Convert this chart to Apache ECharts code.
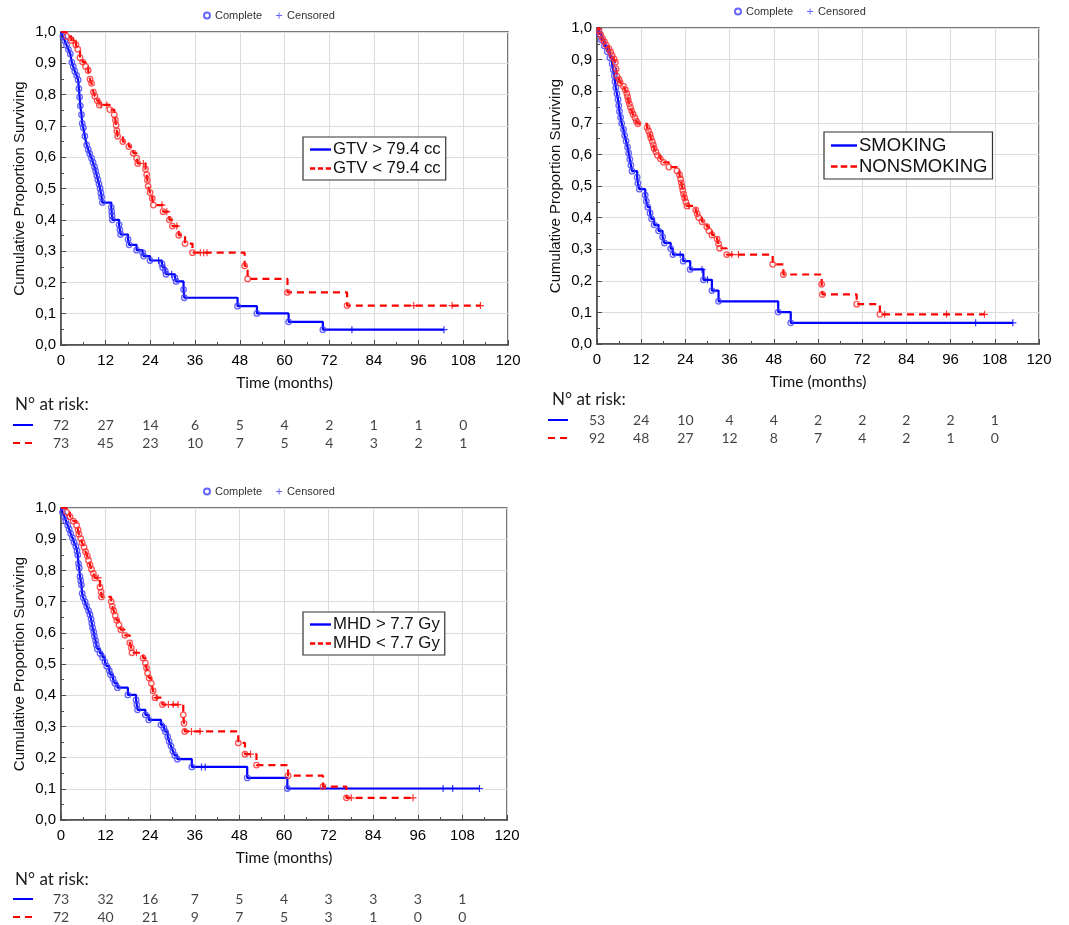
<!DOCTYPE html>
<html><head><meta charset="utf-8">
<script src="https://cdn.jsdelivr.net/npm/echarts@6/dist/echarts.min.js"></script>
<style>html,body{margin:0;padding:0;background:#fff}#c{width:1069px;height:925px}</style>
</head><body><div id="c"></div>
<script>
// ---------- DATA ----------
const xTicks = [0, 12, 24, 36, 48, 60, 72, 84, 96, 108, 120];
const yTickLabels = ['0,0','0,1','0,2','0,3','0,4','0,5','0,6','0,7','0,8','0,9','1,0'];
const riskTimes = [0, 12, 24, 36, 48, 60, 72, 84, 96, 108];

// Panel A: GTV
const gtvNames = ['GTV > 79.4 cc', 'GTV < 79.4 cc'];
const gtvHighEvents = [[0.5,0.986],[1.0,0.972],[1.5,0.958],[2.0,0.944],[2.5,0.930],[2.9,0.903],[3.3,0.889],[3.7,0.875],[4.2,0.861],[4.6,0.847],[4.8,0.819],[5.0,0.792],[5.2,0.764],[5.5,0.736],[5.7,0.708],[6.0,0.694],[6.4,0.667],[6.9,0.639],[7.3,0.625],[7.7,0.611],[8.2,0.597],[8.6,0.583],[9.0,0.569],[9.3,0.556],[9.6,0.542],[9.9,0.528],[10.2,0.514],[10.5,0.500],[10.7,0.486],[10.9,0.472],[11.1,0.455],[13.5,0.440],[13.6,0.426],[13.7,0.413],[13.8,0.400],[15.6,0.384],[15.8,0.368],[16.0,0.353],[18.0,0.337],[18.3,0.320],[20.3,0.303],[21.9,0.295],[22.2,0.284],[23.9,0.270],[27.1,0.259],[27.3,0.248],[28.0,0.237],[28.2,0.226],[30.6,0.214],[30.9,0.203],[32.9,0.177],[33.1,0.151],[47.4,0.124],[52.6,0.101],[61.1,0.074],[70.3,0.049]];
const gtvHighCens = [26.2, 29.7, 78.1, 102.8];
const gtvLowEvents = [[1.5,0.986],[2.8,0.973],[4.0,0.959],[4.5,0.945],[5.1,0.918],[5.8,0.904],[6.6,0.890],[7.3,0.877],[7.8,0.849],[8.2,0.836],[8.7,0.808],[9.1,0.795],[9.7,0.781],[10.3,0.767],[13.1,0.752],[14.3,0.736],[14.6,0.719],[14.8,0.702],[15.0,0.684],[15.2,0.667],[16.6,0.650],[18.2,0.634],[19.4,0.613],[20.3,0.597],[20.6,0.580],[22.7,0.562],[23.0,0.544],[23.2,0.526],[23.4,0.507],[23.9,0.487],[24.5,0.468],[24.8,0.447],[27.4,0.426],[29.1,0.400],[29.9,0.380],[31.6,0.351],[33.3,0.324],[35.3,0.295],[49.3,0.253],[50.1,0.211],[60.8,0.168],[76.8,0.126]];
const gtvLowCens = [3.3, 10.8, 12.3, 22.1, 27.1, 28.4, 31.1, 37.4, 38.3, 39.2, 94.7, 105.0, 112.6];
const gtvHighRisk = [72, 27, 14, 6, 5, 4, 2, 1, 1, 0];
const gtvLowRisk = [73, 45, 23, 10, 7, 5, 4, 3, 2, 1];

// Panel B: smoking
const smkNames = ['SMOKING', 'NONSMOKING'];
const smkEvents = [[0.6,0.981],[1.2,0.962],[2.0,0.943],[2.8,0.925],[3.5,0.906],[4.1,0.887],[4.4,0.868],[4.7,0.849],[4.9,0.830],[5.1,0.811],[5.4,0.792],[5.7,0.774],[5.9,0.755],[6.1,0.736],[6.4,0.717],[6.7,0.698],[7.2,0.679],[7.5,0.660],[7.9,0.642],[8.3,0.623],[8.6,0.604],[8.9,0.585],[9.2,0.566],[9.5,0.547],[10.9,0.528],[11.1,0.509],[11.5,0.490],[13.1,0.471],[13.4,0.452],[13.8,0.433],[14.4,0.414],[14.8,0.396],[15.5,0.377],[16.7,0.358],[17.8,0.339],[18.3,0.320],[20.0,0.302],[20.6,0.283],[23.4,0.262],[25.3,0.236],[28.9,0.203],[31.2,0.169],[33.0,0.135],[49.2,0.101],[52.6,0.067]];
const smkCens = [22.6, 28.5, 30.0, 102.8, 112.9];
const nonEvents = [[0.6,0.989],[1.0,0.978],[1.5,0.967],[2.0,0.957],[2.5,0.946],[3.2,0.935],[3.7,0.924],[4.1,0.913],[4.6,0.902],[5.0,0.891],[5.2,0.870],[5.4,0.848],[6.0,0.837],[6.3,0.826],[7.2,0.815],[7.7,0.804],[8.1,0.793],[8.3,0.782],[8.5,0.771],[8.8,0.760],[9.1,0.749],[9.4,0.738],[9.8,0.727],[10.3,0.716],[10.7,0.705],[11.1,0.697],[13.6,0.685],[14.0,0.674],[14.4,0.663],[14.6,0.652],[15.0,0.641],[15.3,0.630],[15.5,0.619],[16.0,0.608],[16.4,0.597],[17.2,0.586],[18.1,0.575],[19.5,0.560],[21.7,0.548],[22.4,0.535],[22.7,0.522],[22.9,0.510],[23.1,0.498],[23.3,0.486],[23.5,0.474],[23.8,0.462],[24.1,0.450],[24.4,0.437],[26.8,0.424],[27.2,0.412],[27.6,0.400],[28.5,0.387],[29.8,0.371],[30.4,0.358],[31.2,0.345],[32.6,0.332],[33.0,0.317],[33.3,0.303],[35.2,0.283],[47.7,0.252],[50.6,0.220],[61.0,0.189],[61.2,0.157],[70.5,0.126],[76.8,0.094]];
const nonCens = [25.0, 36.6, 38.4, 78.1, 94.9, 105.2];
const smkRisk = [53, 24, 10, 4, 4, 2, 2, 2, 2, 1];
const nonRisk = [92, 48, 27, 12, 8, 7, 4, 2, 1, 0];

// Panel C: MHD
const mhdNames = ['MHD > 7.7 Gy', 'MHD < 7.7 Gy'];
const mhdHighEvents = [[0.4,0.986],[0.9,0.973],[1.3,0.959],[1.8,0.945],[2.2,0.932],[2.6,0.918],[3.1,0.904],[3.5,0.890],[4.0,0.877],[4.3,0.863],[4.5,0.849],[4.7,0.822],[4.9,0.808],[5.1,0.781],[5.3,0.767],[5.5,0.753],[5.7,0.726],[6.0,0.712],[6.5,0.699],[6.9,0.685],[7.4,0.671],[7.8,0.658],[8.1,0.644],[8.3,0.630],[8.5,0.616],[8.8,0.603],[9.0,0.589],[9.3,0.575],[9.5,0.562],[9.8,0.548],[10.5,0.534],[11.2,0.521],[11.8,0.507],[12.3,0.493],[13.0,0.479],[13.3,0.466],[14.0,0.452],[14.5,0.438],[15.2,0.424],[18.0,0.401],[20.2,0.385],[20.4,0.369],[20.6,0.353],[22.7,0.337],[23.6,0.321],[26.9,0.305],[27.7,0.294],[28.1,0.283],[28.7,0.267],[29.1,0.252],[29.6,0.237],[30.1,0.221],[30.6,0.207],[31.3,0.195],[35.2,0.170],[50.1,0.135],[60.9,0.101]];
const mhdHighCens = [37.8, 38.8, 102.8, 105.4, 112.6];
const mhdLowEvents = [[1.5,0.986],[2.4,0.972],[3.3,0.958],[4.2,0.944],[4.6,0.930],[4.8,0.916],[5.3,0.902],[5.7,0.888],[6.2,0.874],[6.6,0.860],[7.1,0.846],[7.4,0.832],[7.8,0.818],[8.2,0.804],[8.7,0.790],[9.1,0.776],[10.5,0.746],[10.8,0.731],[10.9,0.715],[13.5,0.700],[13.8,0.685],[14.2,0.670],[14.6,0.655],[15.0,0.640],[15.6,0.625],[16.1,0.610],[17.2,0.592],[18.5,0.568],[18.9,0.552],[19.1,0.536],[22.1,0.519],[22.7,0.503],[23.0,0.487],[23.3,0.471],[23.7,0.455],[24.3,0.438],[24.8,0.414],[25.3,0.392],[27.3,0.370],[32.9,0.337],[33.1,0.310],[33.3,0.284],[47.7,0.247],[49.5,0.211],[52.6,0.176],[61.1,0.142],[70.5,0.107],[76.8,0.071]];
const mhdLowCens = [10.0, 20.3, 25.8, 28.9, 30.2, 31.5, 35.1, 37.4, 51.0, 78.1, 94.7];
const mhdHighRisk = [73, 32, 16, 7, 5, 4, 3, 3, 3, 1];
const mhdLowRisk = [72, 40, 21, 9, 7, 5, 3, 1, 0, 0];

// ---------- LAYOUT / STYLE ----------
const BLUE = '#0000ff', RED = '#ff0000', BLUE_MK = '#4040ff', RED_MK = '#ff2a2a';
const PLUS = 'path://M3,0h1.2v3h3v1.2h-3v3h-1.2v-3h-3v-1.2h3z';
const ARIAL = 'Liberation Sans';

const panels = [
  { names: gtvNames, events: [gtvHighEvents, gtvLowEvents], cens: [gtvHighCens, gtvLowCens], risk: [gtvHighRisk, gtvLowRisk],
    grid: {left: 61, top: 32, width: 447, height: 313}, riskTop: 416,
    topLegend: {left: 203, top: 10}, box: {left: 303, top: 137}, boxFont: 16.8, iconW: 21,
    riskTitle: [15, 396], keyX: 13, keyY: [425, 443] },
  { names: smkNames, events: [smkEvents, nonEvents], cens: [smkCens, nonCens], risk: [smkRisk, nonRisk],
    grid: {left: 597, top: 28, width: 442, height: 316}, riskTop: 411,
    topLegend: {left: 734, top: 6}, box: {left: 824, top: 132}, boxFont: 18.5, iconW: 26,
    riskTitle: [552, 391], keyX: 548, keyY: [420, 438] },
  { names: mhdNames, events: [mhdHighEvents, mhdLowEvents], cens: [mhdHighCens, mhdLowCens], risk: [mhdHighRisk, mhdLowRisk],
    grid: {left: 61, top: 508, width: 446, height: 312}, riskTop: 890,
    topLegend: {left: 203, top: 486}, box: {left: 303, top: 612}, boxFont: 16.8, iconW: 21,
    riskTitle: [15, 871], keyX: 13, keyY: [899, 917] }
];

function solidIcon(w) { return 'path://M0,0h' + w + 'v2.4h-' + w + 'z'; }
function dashIcon(w) {
  const d = w / 4;
  return 'path://M0,0h' + d + 'v2.4h-' + d + 'z M' + (1.5 * d) + ',0h' + d + 'v2.4h-' + d + 'z M' + (3 * d) + ',0h' + d + 'v2.4h-' + d + 'z';
}

function survAt(events, t) {
  let s = 1;
  for (const e of events) { if (e[0] <= t) s = e[1]; }
  return s;
}
function lineData(events, cens) {
  const pts = [[0, 1]].concat(events);
  const lastC = Math.max.apply(null, cens);
  const last = events[events.length - 1];
  if (lastC > last[0]) pts.push([lastC, last[1]]);
  return pts;
}

const grids = [], xAxes = [], yAxes = [], series = [], legends = [], graphics = [];

series.push({ name: 'Complete', type: 'scatter', data: [], symbol: 'circle', itemStyle: {color: BLUE_MK} });
series.push({ name: 'Censored', type: 'scatter', data: [], symbol: PLUS, itemStyle: {color: BLUE_MK} });

panels.forEach((p, i) => {
  const gi = grids.length;
  grids.push(Object.assign({ show: true, borderColor: '#4a4a4a', borderWidth: 1.5, outerBoundsMode: 'none', containLabel: false }, p.grid));
  grids.push({ left: p.grid.left, width: p.grid.width, top: p.riskTop, height: 36, show: false, outerBoundsMode: 'none', containLabel: false });

  xAxes.push({
    gridIndex: gi, type: 'value', min: xTicks[0], max: xTicks[xTicks.length - 1], interval: 12,
    axisLine: {show: true, onZero: false, lineStyle: {color: '#4a4a4a', width: 1.5}},
    axisTick: {show: true, inside: true, length: 5, lineStyle: {color: '#4a4a4a'}},
    minorTick: {show: true, splitNumber: 2, length: 3, lineStyle: {color: '#4a4a4a'}},
    splitLine: {show: true, lineStyle: {color: '#dcdcdc', width: 1}},
    axisLabel: {fontSize: 15, color: '#000', fontFamily: ARIAL, margin: 8},
    name: 'Time (months)', nameLocation: 'middle', nameGap: 30,
    nameTextStyle: {fontSize: 15.5, fontFamily: 'Lato', color: '#111'}
  });
  yAxes.push({
    gridIndex: gi, type: 'value', min: 0, max: 1, interval: 0.1,
    axisLine: {show: true, onZero: false, lineStyle: {color: '#4a4a4a', width: 1.5}},
    axisTick: {show: true, inside: true, length: 5, lineStyle: {color: '#4a4a4a'}},
    minorTick: {show: true, splitNumber: 2, length: 3, lineStyle: {color: '#4a4a4a'}},
    splitLine: {show: true, lineStyle: {color: '#dcdcdc', width: 1}},
    axisLabel: {fontSize: 15, color: '#000', fontFamily: ARIAL, margin: 5,
      formatter: v => yTickLabels[Math.round(v * 10)]},
    name: 'Cumulative Proportion Surviving', nameLocation: 'middle', nameGap: 34, nameRotate: 90,
    nameTextStyle: {fontSize: 15, fontFamily: ARIAL, color: '#111'}
  });
  xAxes.push({ gridIndex: gi + 1, type: 'value', min: 0, max: 120, show: false });
  yAxes.push({ gridIndex: gi + 1, type: 'value', min: -0.5, max: 1.5, inverse: true, show: false });

  [0, 1].forEach(k => {
    const col = k === 0 ? BLUE : RED, mk = k === 0 ? BLUE_MK : RED_MK;
    const ev = p.events[k], cs = p.cens[k];
    series.push({
      name: p.names[k], type: 'line', xAxisIndex: gi, yAxisIndex: gi, step: 'end',
      showSymbol: false, symbol: 'none', color: col, z: 3,
      lineStyle: {color: col, width: 2.2, type: k === 0 ? 'solid' : [7, 5]},
      data: lineData(ev, cs)
    });
    series.push({
      name: p.names[k] + ' events', type: 'scatter', xAxisIndex: gi, yAxisIndex: gi, z: 4,
      symbol: 'circle', symbolSize: 5.5,
      itemStyle: {color: 'rgba(255,255,255,0)', borderColor: mk, borderWidth: 1.3},
      data: ev
    });
    series.push({
      name: p.names[k] + ' censored', type: 'scatter', xAxisIndex: gi, yAxisIndex: gi, z: 4,
      symbol: PLUS, symbolSize: 7, itemStyle: {color: col},
      data: cs.map(t => [t, survAt(ev, t)])
    });
    series.push({
      name: p.names[k] + ' at risk', type: 'scatter', xAxisIndex: gi + 1, yAxisIndex: gi + 1,
      symbol: 'rect', symbolSize: 1, itemStyle: {color: 'rgba(0,0,0,0)'}, silent: true,
      label: {show: true, position: 'inside', color: '#111', fontSize: 14, fontFamily: 'Lato',
        formatter: prm => String(p.risk[k][prm.dataIndex])},
      data: riskTimes.map(t => [t, k])
    });
    graphics.push({
      type: 'line', shape: {x1: p.keyX, y1: p.keyY[k], x2: p.keyX + 20, y2: p.keyY[k]},
      style: {stroke: col, lineWidth: 2, lineDash: k === 0 ? null : [7, 5]}
    });
  });

  legends.push({
    selectedMode: false, orient: 'horizontal', left: p.topLegend.left, top: p.topLegend.top,
    padding: 0, itemGap: 14, itemWidth: 6, itemHeight: 6,
    textStyle: {fontSize: 11, fontFamily: ARIAL, color: '#333', padding: [0, 0, 0, 0]},
    data: [{name: 'Complete', icon: 'emptyCircle'}, {name: 'Censored', icon: PLUS}]
  });
  legends.push({
    selectedMode: false, orient: 'vertical', left: p.box.left, top: p.box.top,
    padding: [4, 5, 3, 7], itemGap: 2, itemWidth: p.iconW, itemHeight: 2.4,
    borderColor: '#333', borderWidth: 1.2, backgroundColor: '#fff',
    itemStyle: {borderWidth: 0},
    textStyle: {fontSize: p.boxFont, fontFamily: ARIAL, color: '#111', padding: [0, 0, 0, -3]},
    data: [{name: p.names[0], icon: solidIcon(p.iconW)}, {name: p.names[1], icon: dashIcon(p.iconW)}]
  });
  graphics.push({
    type: 'text', left: p.riskTitle[0], top: p.riskTitle[1],
    style: {text: 'N° at risk:', font: '17px Lato', fill: '#222'}
  });
});

const chart = echarts.init(document.getElementById('c'), null, {renderer: 'canvas'});
chart.setOption({
  animation: false,
  backgroundColor: '#fff',
  grid: grids, xAxis: xAxes, yAxis: yAxes,
  legend: legends, series: series, graphic: graphics
});
</script>
</body></html>
